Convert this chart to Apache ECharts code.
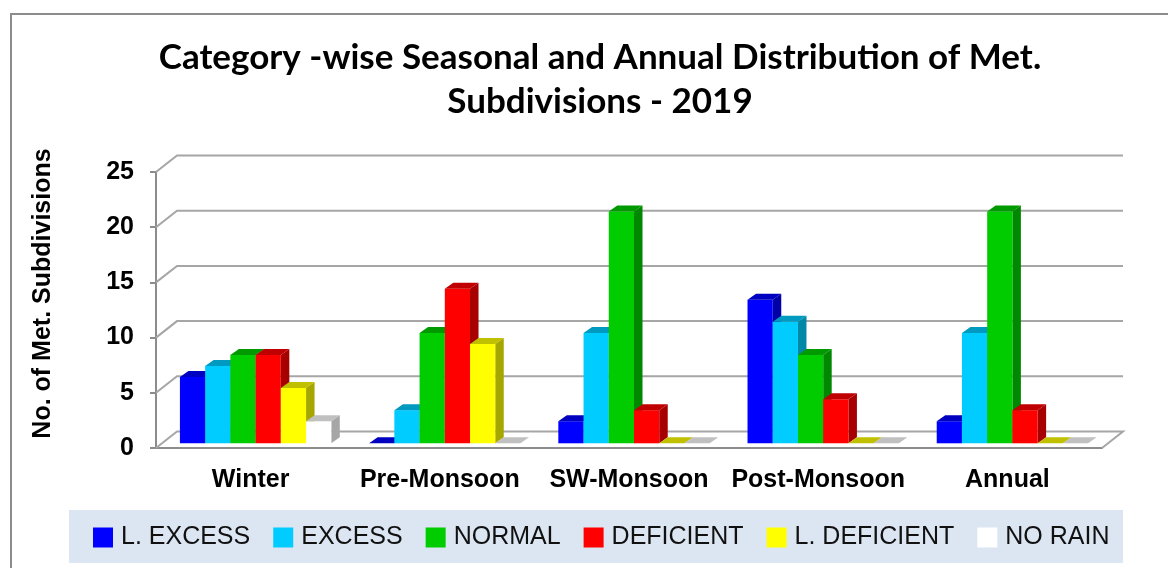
<!DOCTYPE html>
<html>
<head>
<meta charset="utf-8">
<style>
html, body { margin: 0; background: #fff; }
#main { width: 1168px; height: 568px; }
</style>
<script src="https://cdn.jsdelivr.net/npm/echarts@6/dist/echarts.min.js"></script>
</head>
<body>
<div id="main"></div>
<script>
const categories = ['Winter', 'Pre-Monsoon', 'SW-Monsoon', 'Post-Monsoon', 'Annual'];
const yTicks = [0, 5, 10, 15, 20, 25];

const lExcess = [6, 0, 2, 13, 2];
const excess = [7, 3, 10, 11, 10];
const normal = [8, 10, 21, 8, 21];
const deficient = [8, 14, 3, 4, 3];
const lDeficient = [5, 9, 0, 0, 0];
const noRain = [2, 0, 0, 0, 0];

const names = ['L. EXCESS', 'EXCESS', 'NORMAL', 'DEFICIENT', 'L. DEFICIENT', 'NO RAIN'];
const values = [lExcess, excess, normal, deficient, lDeficient, noRain];
// front, top, side
const colors = [
    ['#0000ff', '#0000c0', '#0000a6'],
    ['#00ccff', '#0099c0', '#0088a6'],
    ['#00cc00', '#009900', '#008800'],
    ['#ff0000', '#c00000', '#a60000'],
    ['#ffff00', '#c0c000', '#a6a600'],
    ['#ffffff', '#c0c0c0', '#a6a6a6']
];

const wallDx = 21, wallDy = -16.5;   // how far the back wall sits behind the axes
const barDx = 5, barDy = -4.7;       // front face of the bars
const depthDx = 8.5, depthDy = -6;   // depth of a bar
const barShare = 0.8 / 6;            // bar width as a part of the category band
const gridColor = '#a6a6a6';
const axisColor = '#8c8c8c';
const font = '"Liberation Sans", Arial, sans-serif';

// back wall lines, floor included
function renderWall(params, api) {
    const cs = params.coordSys;
    const y = api.coord([0, api.value(0)])[1];
    const left = cs.x, right = cs.x + cs.width;
    const style = { stroke: gridColor, lineWidth: 2, fill: null };
    const points = [[left, y], [left + wallDx, y + wallDy], [right + wallDx, y + wallDy]];
    if (api.value(0) === 0) points.push([right, y]);
    return { type: 'polyline', shape: { points: points }, style: style };
}

// one fake 3D bar: front, top and side faces
function renderBar(seriesIndex) {
    return function (params, api) {
        const band = api.size([1, 0])[0];
        const w = band * barShare;
        const top = api.coord([api.value(0), api.value(1)]);
        const base = api.coord([api.value(0), 0]);
        const x0 = top[0] + barDx + (seriesIndex - 3) * w;
        const x1 = x0 + w;
        const yt = top[1] + barDy;
        const yb = base[1] + barDy;
        const c = colors[seriesIndex];
        const children = [];
        if (yb - yt > 0.5) {
            children.push({
                type: 'polygon',
                shape: { points: [[x1, yt], [x1 + depthDx, yt + depthDy], [x1 + depthDx, yb + depthDy], [x1, yb]] },
                style: { fill: c[2] }
            });
            children.push({
                type: 'rect',
                shape: { x: x0, y: yt, width: w, height: yb - yt },
                style: { fill: c[0] }
            });
        }
        children.push({
            type: 'polygon',
            shape: { points: [[x0, yt], [x0 + depthDx, yt + depthDy], [x1 + depthDx, yt + depthDy], [x1, yt]] },
            style: { fill: c[1] }
        });
        return { type: 'group', children: children };
    };
}

const myChart = echarts.init(document.getElementById('main'));

const series = [{
    type: 'custom',
    name: 'wall',
    silent: true,
    clip: false,
    z: 1,
    renderItem: renderWall,
    encode: { y: 0 },
    data: yTicks.map(v => [v])
}];
names.forEach((name, s) => {
    series.push({
        type: 'custom',
        name: name,
        clip: false,
        z: 2 + s,
        itemStyle: { color: colors[s][0] },
        renderItem: renderBar(s),
        encode: { x: 0, y: 1 },
        data: values[s].map((v, i) => [i, v])
    });
});

myChart.setOption({
    animation: false,
    backgroundColor: '#fff',
    title: {
        text: 'Category -wise Seasonal and Annual Distribution of Met.\nSubdivisions - 2019',
        left: 595,
        top: 31,
        textAlign: 'center',
        textStyle: { fontFamily: 'Lato', fontWeight: 'bold', fontSize: 35, lineHeight: 44, color: '#000' }
    },
    graphic: [
        {
            type: 'rect', silent: true, z: -10,
            shape: { x: 11, y: 14, width: 1200, height: 600 },
            style: { fill: null, stroke: axisColor, lineWidth: 2 }
        },
        {
            type: 'rect', silent: true, z: -10,
            shape: { x: 69, y: 510, width: 1054, height: 53 },
            style: { fill: '#dce6f2' }
        }
    ],
    legend: {
        data: names,
        left: 93,
        top: 525,
        padding: 0,
        icon: 'rect',
        itemWidth: 20,
        itemHeight: 20,
        itemGap: 23,
        selectedMode: false,
        textStyle: { fontFamily: font, fontSize: 25, color: '#111', padding: [0, 0, 0, 3] }
    },
    grid: { left: 156, right: 66, top: 172, bottom: 120 },
    xAxis: {
        type: 'category',
        data: categories,
        axisLine: { lineStyle: { color: axisColor, width: 2 } },
        axisTick: { length: 9, lineStyle: { color: axisColor, width: 2 } },
        axisLabel: { interval: 0, margin: 20, fontFamily: font, fontWeight: 'bold', fontSize: 25, color: '#000' }
    },
    yAxis: {
        type: 'value',
        min: 0,
        max: 25,
        interval: 5,
        name: 'No. of Met. Subdivisions',
        nameLocation: 'middle',
        nameGap: 100,
        nameTextStyle: { fontFamily: font, fontWeight: 'bold', fontSize: 25, color: '#000', padding: [0, 0, 0, 33] },
        splitLine: { show: false },
        axisLine: { show: true, lineStyle: { color: axisColor, width: 2 } },
        axisTick: { show: true, length: 6, lineStyle: { color: axisColor, width: 2 } },
        axisLabel: { margin: 22, lineHeight: 25, padding: [10, 0, 0, 0], fontFamily: font, fontWeight: 'bold', fontSize: 25, color: '#000' }
    },
    series: series
});
</script>
</body>
</html>
